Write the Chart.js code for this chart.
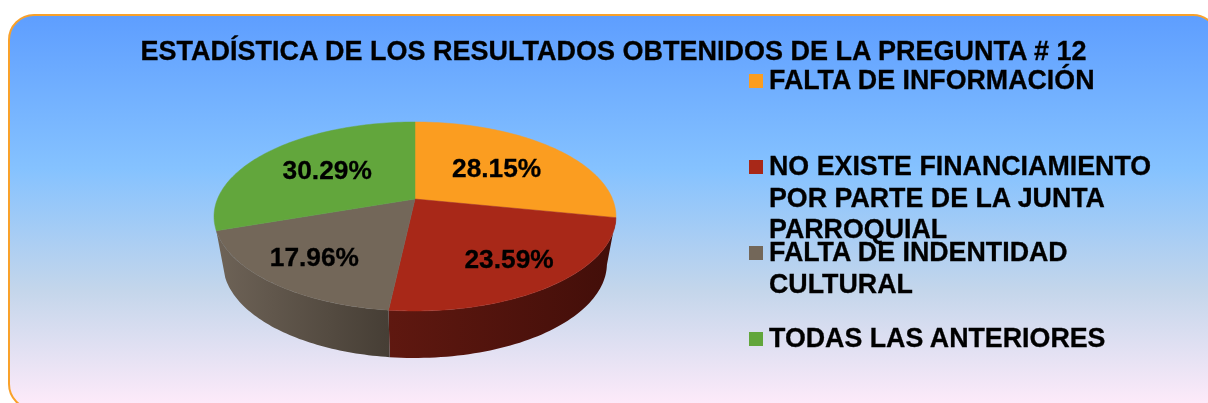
<!DOCTYPE html>
<html>
<head>
<meta charset="utf-8">
<title>Pregunta 12</title>
<script src="https://cdn.jsdelivr.net/npm/chart.js@4"></script>
<style>
  html, body { margin: 0; padding: 0; background: #fff; overflow: hidden; width: 1208px; height: 403px; }
  body { position: relative; font-family: "Liberation Sans", Arial, sans-serif; font-weight: bold; color: #000; -webkit-text-stroke: 0.3px #000; }
  #marco {
    position: absolute; left: 8px; top: 14px; width: 1207px; height: 392px;
    border: 2px solid #f9a12a; border-radius: 26px;
    background: linear-gradient(180deg, #5e9eff 0%, #85c2ff 39%, #c4d6eb 70%, #ffebfa 100%);
  }
  #grafico { position: absolute; left: 0; top: 0; }
  #titulo { position: absolute; left: 9px; top: 36px; width: 1209px; text-align: center; font-size: 27px; line-height: 30px; white-space: nowrap; }
  .fila { position: absolute; left: 769px; width: 395px; font-size: 26.8px; line-height: 31.5px; }
  .cuadro { position: absolute; left: -20px; top: 9px; width: 14px; height: 14px; }
</style>
</head>
<body>
<div id="marco"></div>
<canvas id="grafico" width="1208" height="403"></canvas>
<div id="titulo"></div>
<div id="leyenda"></div>
<script>
const titulo = 'ESTADÍSTICA DE LOS RESULTADOS OBTENIDOS DE LA PREGUNTA # 12';
const categorias = ['FALTA DE INFORMACIÓN', 'NO EXISTE FINANCIAMIENTO POR PARTE DE LA JUNTA PARROQUIAL', 'FALTA DE INDENTIDAD CULTURAL', 'TODAS LAS ANTERIORES'];
const valores = [28.15, 23.59, 17.96, 30.29];
const colores = ['#fb9d20', '#a82818', '#736759', '#62a63c'];
const coloresLadoIzq = ['#c47a18', '#5f1810', '#6e6357', '#4a7d2d'];
const coloresLadoDer = ['#a0660f', '#420e09', '#463e35', '#3c6625'];

// Distancia de cada etiqueta al vértice, como fracción del radio
const radioEtiqueta = [0.57, 0.72, 0.73, 0.58];

// Perspectiva del disco: circulo unidad -> pantalla
const persp = { ax: 1.975, by: 0.9126, p: -0.185 };
const lado = { alto: 47, escala: 0.955 };

function proyectar(arc, u, v) {
    const k = 1 + persp.p * v;
    return {
        x: persp.ax * arc.outerRadius * u / k,
        y: persp.by * arc.outerRadius * v / k
    };
}

const pie3d = {
    id: 'pie3d',
    beforeDatasetDraw(chart) {
        const ctx = chart.ctx;
        const arcos = chart.getDatasetMeta(0).data;

        // Primero los lados (solo las porciones de delante), luego la cara superior encima
        arcos.forEach((arc, i) => {
            if (Math.sin((arc.startAngle + arc.endAngle) / 2) < 0) return;
            const pasos = 60;
            const arriba = [], abajo = [];
            for (let s = 0; s <= pasos; s++) {
                const t = arc.startAngle + (arc.endAngle - arc.startAngle) * s / pasos;
                const p = proyectar(arc, Math.cos(t), Math.sin(t));
                arriba.push({ x: arc.x + p.x, y: arc.y + p.y });
                abajo.push({ x: arc.x + p.x * lado.escala, y: arc.y + p.y + lado.alto });
            }
            const xs = arriba.map(p => p.x);
            const grad = ctx.createLinearGradient(Math.min(...xs), 0, Math.max(...xs), 0);
            grad.addColorStop(0, coloresLadoIzq[i]);
            grad.addColorStop(1, coloresLadoDer[i]);
            ctx.beginPath();
            arriba.forEach((p, n) => n ? ctx.lineTo(p.x, p.y) : ctx.moveTo(p.x, p.y));
            abajo.reverse().forEach(p => ctx.lineTo(p.x, p.y));
            ctx.closePath();
            ctx.fillStyle = grad;
            ctx.fill();
        });

        arcos.forEach((arc, i) => {
            const pasos = 90;
            ctx.beginPath();
            ctx.moveTo(arc.x, arc.y);
            for (let s = 0; s <= pasos; s++) {
                const t = arc.startAngle + (arc.endAngle - arc.startAngle) * s / pasos;
                const p = proyectar(arc, Math.cos(t), Math.sin(t));
                ctx.lineTo(arc.x + p.x, arc.y + p.y);
            }
            ctx.closePath();
            ctx.fillStyle = colores[i];
            ctx.strokeStyle = colores[i];
            ctx.lineWidth = 0.5;
            ctx.fill();
            ctx.stroke();
        });

        // Porcentajes
        ctx.fillStyle = '#000';
        ctx.strokeStyle = '#000';
        ctx.lineWidth = 0.3;
        ctx.font = 'bold 26.3px "Liberation Sans", Arial, sans-serif';
        ctx.textAlign = 'center';
        ctx.textBaseline = 'middle';
        arcos.forEach((arc, i) => {
            const t = (arc.startAngle + arc.endAngle) / 2;
            const p = proyectar(arc, radioEtiqueta[i] * Math.cos(t), radioEtiqueta[i] * Math.sin(t));
            const texto = valores[i].toFixed(2) + '%';
            ctx.fillText(texto, arc.x + p.x, arc.y + p.y + 2);
            ctx.strokeText(texto, arc.x + p.x, arc.y + p.y + 2);
        });
        return false;
    }
};

new Chart(document.getElementById('grafico'), {
    type: 'pie',
    data: {
        labels: categorias,
        datasets: [{ data: valores, backgroundColor: colores, borderWidth: 0 }]
    },
    options: {
        responsive: false,
        animation: false,
        layout: { padding: { left: 315, right: 693, top: 99, bottom: 104 } },
        plugins: { legend: { display: false }, tooltip: { enabled: false }, title: { display: false } }
    },
    plugins: [pie3d]
});

// Título y leyenda
document.getElementById('titulo').textContent = titulo;
const leyenda = document.getElementById('leyenda');
categorias.forEach((cat, i) => {
    const fila = document.createElement('div');
    fila.className = 'fila';
    fila.style.top = (65 + 86 * i) + 'px';
    fila.innerHTML = '<span class="cuadro" style="background:' + colores[i] + '"></span>' + cat;
    leyenda.appendChild(fila);
});
</script>
</body>
</html>
